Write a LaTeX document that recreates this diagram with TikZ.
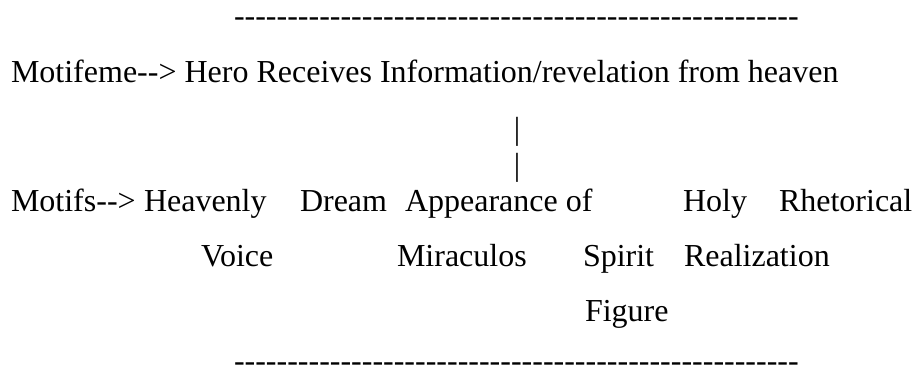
\documentclass[tikz,border=0pt]{standalone}
\usepackage{fontspec}
\setmainfont{Liberation Serif}[Ligatures=TeXOff]
\begin{document}
\begin{tikzpicture}[x=1pt,y=-1pt,
  txt/.style={anchor=base west,inner sep=0pt,outer sep=0pt,font=\fontsize{32}{38}\selectfont},
  bar/.style={anchor=north,inner sep=0pt,outer sep=0pt,font=\fontsize{32}{38}\selectfont}]
\useasboundingbox (0,0) rectangle (915,372);
\node[txt] (dashtop) at (234,27) {-----------------------------------------------------};
\node[txt] (motifeme) at (11,82) {Motifeme--> Hero Receives Information/revelation from heaven};
\node[bar] (pipeA) at (517,117) {|};
\node[bar] (pipeB) at (517,153) {|};
\node[txt] (motifs) at (11,211) {Motifs-->};
\node[txt] (heavenly) at (144,211) {Heavenly};
\node[txt] (dream) at (300,211) {Dream};
\node[txt] (appearance) at (405,211) {Appearance of};
\node[txt] (holy) at (683,211) {Holy};
\node[txt] (rhetorical) at (779,211) {Rhetorical};
\node[txt] (voice) at (201,266) {Voice};
\node[txt] (miraculos) at (397,266) {Miraculos};
\node[txt] (spirit) at (583,266) {Spirit};
\node[txt] (realization) at (684,266) {Realization};
\node[txt] (figure) at (585,321) {Figure};
\node[txt] (dashbottom) at (234,371.5) {-----------------------------------------------------};
\end{tikzpicture}
\end{document}
